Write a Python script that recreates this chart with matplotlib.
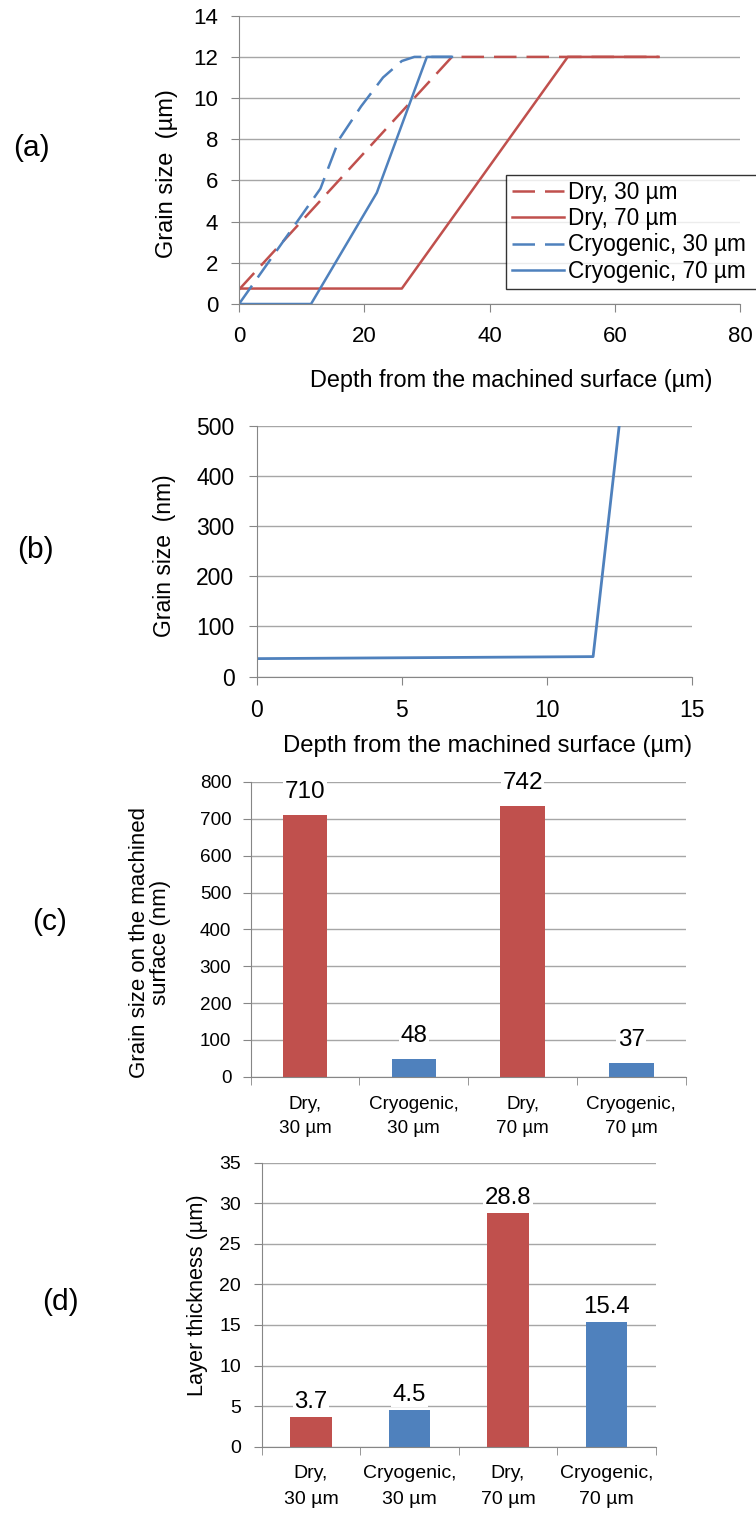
import matplotlib
matplotlib.use('Agg')
import matplotlib.pyplot as plt

plt.rcParams['font.family'] = ['Liberation Sans', 'DejaVu Sans']

RED = '#C0504D'
BLUE = '#4F81BD'
GRID = '#a6a6a6'
AXIS = '#868686'

# (a) grain size (um) against depth (um)
dry30_x = [0, 34, 67]
dry30_y = [0.7, 12, 12]
dry70_x = [0, 26, 52.5, 67]
dry70_y = [0.75, 0.75, 12, 12]
cryo30_x = [0, 13, 16, 19.5, 23, 26, 28, 34]
cryo30_y = [0, 5.6, 8.0, 9.6, 11.0, 11.8, 12, 12]
cryo70_x = [0, 11.5, 22, 30, 34]
cryo70_y = [0, 0, 5.4, 12, 12]

# (b) grain size (nm) against depth (um)
nano_x = [0, 11.6, 12.5]
nano_y = [36, 40, 500]

# (c) and (d) bar charts
cats = ['Dry,\n30 µm', 'Cryogenic,\n30 µm', 'Dry,\n70 µm', 'Cryogenic,\n70 µm']
surface_nm = [710, 48, 735, 37]
surface_txt = ['710', '48', '742', '37']
thickness = [3.7, 4.5, 28.8, 15.4]
thickness_txt = ['3.7', '4.5', '28.8', '15.4']
bar_cols = [RED, BLUE, RED, BLUE]

W, H = 756, 1513
fig = plt.figure(figsize=(W / 100, H / 100), dpi=100)


def box(l, t, r, b):
    # pixel box -> figure fraction rect
    return [l / W, 1 - b / H, (r - l) / W, (b - t) / H]


def ftext(x, y, s, **kw):
    fig.text(x / W, 1 - y / H, s, ha='center', va='center', **kw)


def style(ax, fs, pad_y, pad_x):
    for s in ['top', 'right']:
        ax.spines[s].set_visible(False)
    for s in ['left', 'bottom']:
        ax.spines[s].set_color(AXIS)
    ax.yaxis.grid(True, color=GRID, lw=1)
    ax.set_axisbelow(True)
    ax.tick_params(axis='y', direction='out', length=6, color=AXIS, labelsize=fs, pad=pad_y)
    ax.tick_params(axis='x', direction='out', length=6, color=AXIS, labelsize=fs, pad=pad_x)


def categories(ax, pad, spacing):
    ax.set_xlim(-0.5, 3.5)
    ax.set_xticks(range(4))
    ax.set_xticklabels(cats, linespacing=spacing)
    ax.set_xticks([-0.5, 0.5, 1.5, 2.5, 3.5], minor=True)
    ax.tick_params(axis='x', which='major', length=0, pad=pad)
    ax.tick_params(axis='x', which='minor', length=6, color=AXIS)


# ---- (a)
ax = fig.add_axes(box(239, 15.7, 740, 304))
dash = (0, (9, 4))
ax.plot(dry30_x, dry30_y, color=RED, lw=1.8, ls=dash, label='Dry, 30 µm')
ax.plot(dry70_x, dry70_y, color=RED, lw=1.8, label='Dry, 70 µm')
ax.plot(cryo30_x, cryo30_y, color=BLUE, lw=1.8, ls=dash, label='Cryogenic, 30 µm')
ax.plot(cryo70_x, cryo70_y, color=BLUE, lw=1.8, label='Cryogenic, 70 µm')
ax.set_xlim(0, 80)
ax.set_ylim(0, 14)
ax.set_xticks(range(0, 81, 20))
ax.set_yticks(range(0, 15, 2))
style(ax, 16, 9, 10)
# legend box runs past the right edge of the figure, as in the source
leg_top = (304 - 175) / 288.3
leg = ax.legend(loc='upper left', mode='expand',
                bbox_to_anchor=((506 - 239) / 501, leg_top - 0.5, (770 - 506) / 501, 0.5),
                fontsize=16.3, frameon=True, fancybox=False, borderaxespad=0,
                handlelength=2.3, handletextpad=0.2, labelspacing=0.15, borderpad=0.25)
leg.get_frame().set_edgecolor('black')
leg.get_frame().set_linewidth(1)
ftext(511, 380, 'Depth from the machined surface (µm)', fontsize=16.9)
ftext(167, 174, 'Grain size  (µm)', fontsize=17, rotation=90)
ftext(31, 148, '(a)', fontsize=21.5)

# ---- (b)
ax = fig.add_axes(box(256.7, 425.7, 691.7, 676.7))
ax.plot(nano_x, nano_y, color=BLUE, lw=2)
ax.set_xlim(0, 15)
ax.set_ylim(0, 500)
ax.set_xticks(range(0, 16, 5))
ax.set_yticks(range(0, 501, 100))
style(ax, 16.5, 10, 10)
ftext(488, 746, 'Depth from the machined surface (µm)', fontsize=17.2)
ftext(165, 556, 'Grain size  (nm)', fontsize=16.5, rotation=90)
ftext(35, 550, '(b)', fontsize=21.5)

# ---- (c)
ax = fig.add_axes(box(250.7, 782, 685.7, 1076.7))
bars = ax.bar(range(4), surface_nm, width=0.41, color=bar_cols)
ax.bar_label(bars, labels=surface_txt, padding=8.5, fontsize=17.5,
             bbox=dict(fc='white', ec='none', pad=1))
ax.set_ylim(0, 800)
ax.set_yticks(range(0, 801, 100))
style(ax, 13.6, 8, 10)
categories(ax, 14, 1.5)
ftext(150, 942, 'Grain size on the machined\nsurface (nm)', fontsize=16, rotation=90,
      linespacing=1.0)
ftext(50, 922, '(c)', fontsize=21.5)

# ---- (d)
ax = fig.add_axes(box(261.7, 1162.7, 655.7, 1446.7))
bars = ax.bar(range(4), thickness, width=0.42, color=bar_cols)
ax.bar_label(bars, labels=thickness_txt, padding=3, fontsize=17.3,
             bbox=dict(fc='white', ec='none', pad=1))
ax.set_ylim(0, 35)
ax.set_yticks(range(0, 36, 5))
style(ax, 14, 9, 10)
categories(ax, 13.5, 1.65)
ftext(197, 1295, 'Layer thickness (µm)', fontsize=15.7, rotation=90)
ftext(60, 1302, '(d)', fontsize=21.5)

fig.savefig('out.png', dpi=100)
